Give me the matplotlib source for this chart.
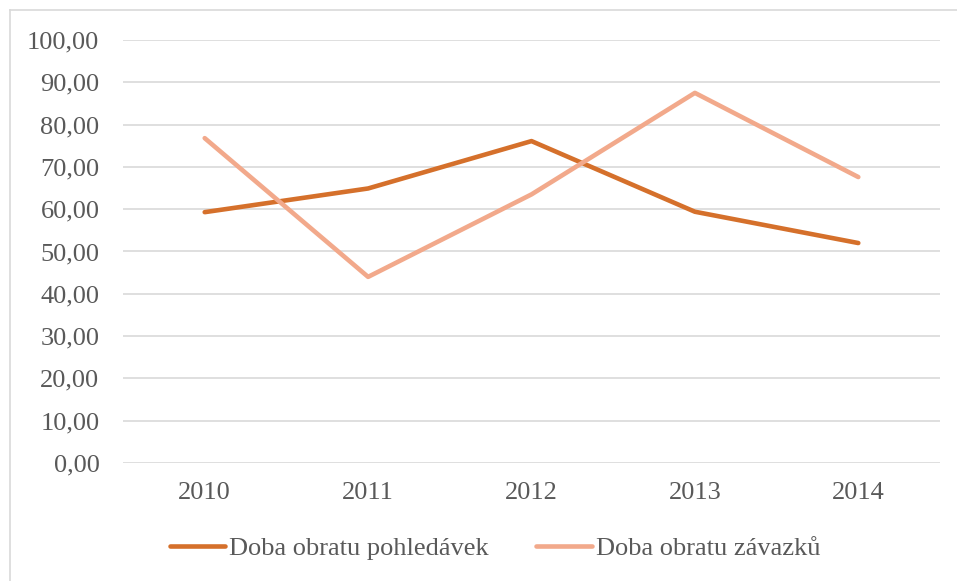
import matplotlib.pyplot as plt
from matplotlib.lines import Line2D

years = ["2010", "2011", "2012", "2013", "2014"]
pohledavky = [59.3, 64.9, 76.1, 59.4, 52.0]
zavazky = [76.8, 44.0, 63.5, 87.5, 67.6]
series_names = ["Doba obratu pohledávek", "Doba obratu závazků"]
yticks = [0, 10, 20, 30, 40, 50, 60, 70, 80, 90, 100]

textColor = "#595959"
fontSize = 19
plt.rcParams['font.family'] = ['Liberation Serif', 'DejaVu Serif']

fig = plt.figure(figsize=(9.57, 5.81), dpi=100)
ax = fig.add_axes([123 / 957, 1 - 463 / 581, 817 / 957, 423 / 581])

x = range(len(years))
ax.plot(x, pohledavky, color="#D5702B", lw=3.3, solid_capstyle='round', solid_joinstyle='round', label=series_names[0], zorder=3)
ax.plot(x, zavazky, color="#F2A98B", lw=3.3, solid_capstyle='round', solid_joinstyle='round', label=series_names[1], zorder=3)

ax.set_xlim(-0.5, len(years) - 0.5)
ax.set_ylim(0, 100)
ax.set_yticks(yticks)
ax.set_yticklabels([("%.2f" % v).replace(".", ",") for v in yticks])
ax.set_xticks(list(x))
ax.set_xticklabels(years)
ax.tick_params(length=0, labelsize=fontSize, labelcolor=textColor)
ax.tick_params(axis='y', pad=17)
ax.tick_params(axis='x', pad=14)
ax.grid(axis='y', color="#D9D9D9", lw=1.2)
for s in ax.spines.values():
    s.set_visible(False)

ax.legend(loc='center', bbox_to_anchor=(495 / 957, 1 - 548 / 581), bbox_transform=fig.transFigure,
          ncol=2, frameon=False, fontsize=fontSize, labelcolor=textColor,
          handlelength=2.1, handletextpad=0.15, columnspacing=1.8)

# chart border (top and left visible)
fig.add_artist(Line2D([10 / 957, 1], [1 - 10 / 581, 1 - 10 / 581], color="#D9D9D9", lw=1.2, transform=fig.transFigure))
fig.add_artist(Line2D([10 / 957, 10 / 957], [0, 1 - 10 / 581], color="#D9D9D9", lw=1.2, transform=fig.transFigure))

fig.savefig("out.png", dpi=100)
